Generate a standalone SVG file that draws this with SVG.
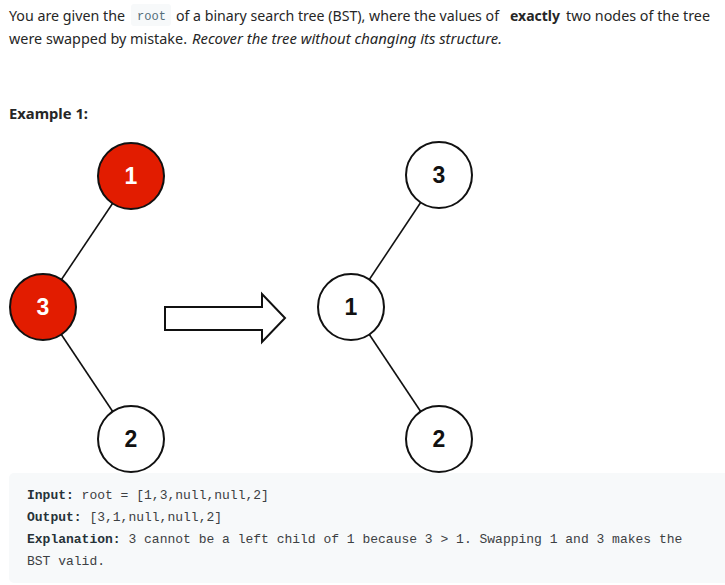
<svg xmlns="http://www.w3.org/2000/svg" width="725" height="585" viewBox="0 0 725 585">
<style>
.p{font-family:"Noto Sans","Open Sans","Liberation Sans",sans-serif;font-size:15px;fill:#262626}
.b{font-weight:bold}
.i{font-style:italic}
.m{font-family:"Liberation Mono","DejaVu Sans Mono",monospace;font-size:13px;fill:#3c4043}
.mb{font-weight:bold;fill:#263238}
.nr{fill:#e21c00;stroke:#111;stroke-width:2}
.nw{fill:#fff;stroke:#111;stroke-width:2}
.lbl{font-family:"Liberation Sans",Arial,sans-serif;font-size:23px;font-weight:bold;text-anchor:middle}
.edge{stroke:#111;stroke-width:1.6;fill:none}
</style>
<rect width="725" height="585" fill="#fff"/>
<g id="intro">
<rect x="131" y="4" width="40" height="22" rx="3" fill="#f7f9fa"/>
<text class="p" y="21"><tspan x="9" textLength="116" lengthAdjust="spacingAndGlyphs">You are given the</tspan><tspan x="137" y="20" class="m" style="fill:#546e7a" textLength="29" lengthAdjust="spacingAndGlyphs">root</tspan><tspan x="176" y="21" textLength="323" lengthAdjust="spacingAndGlyphs">of a binary search tree (BST), where the values of</tspan><tspan x="510" class="b" textLength="50" lengthAdjust="spacingAndGlyphs">exactly</tspan><tspan x="566" textLength="144" lengthAdjust="spacingAndGlyphs">two nodes of the tree</tspan></text>
<text class="p" y="44"><tspan x="9" textLength="178" lengthAdjust="spacingAndGlyphs">were swapped by mistake.</tspan><tspan x="192" class="i" textLength="310" lengthAdjust="spacingAndGlyphs">Recover the tree without changing its structure.</tspan></text>
<text class="p b" x="9" y="119" textLength="79" lengthAdjust="spacingAndGlyphs">Example 1:</text>
</g>
<g id="connectors">
<line class="edge" x1="131" y1="176" x2="43" y2="307"/>
<line class="edge" x1="43" y1="307" x2="131" y2="439"/>
<line class="edge" x1="439" y1="175" x2="351" y2="307"/>
<line class="edge" x1="351" y1="307" x2="439" y2="439"/>
<polygon points="165,307 262,307 262,294 285,318 262,342 262,330 165,330" fill="#fff" stroke="#111" stroke-width="2" stroke-linejoin="miter"/>
</g>
<g id="left-node-1">
<circle class="nr" cx="131" cy="176" r="33"/>
<text class="lbl" x="131" y="184" fill="#fff">1</text>
</g>
<g id="left-node-3">
<circle class="nr" cx="43" cy="307" r="33"/>
<text class="lbl" x="43" y="315" fill="#fff">3</text>
</g>
<g id="left-node-2">
<circle class="nw" cx="131" cy="439" r="33"/>
<text class="lbl" x="131" y="447" fill="#111">2</text>
</g>
<g id="right-node-3">
<circle class="nw" cx="439" cy="175" r="33"/>
<text class="lbl" x="439" y="183" fill="#111">3</text>
</g>
<g id="right-node-1">
<circle class="nw" cx="351" cy="307" r="33"/>
<text class="lbl" x="351" y="315" fill="#111">1</text>
</g>
<g id="right-node-2">
<circle class="nw" cx="439" cy="439" r="33"/>
<text class="lbl" x="439" y="447" fill="#111">2</text>
</g>
<g id="example">
<rect x="9" y="473" width="730" height="110" rx="5" fill="#f7f9fa"/>
<text class="m" x="27" y="499"><tspan class="mb">Input:</tspan> root = [1,3,null,null,2]</text>
<text class="m" x="27" y="521"><tspan class="mb">Output:</tspan> [3,1,null,null,2]</text>
<text class="m" x="27" y="543"><tspan class="mb">Explanation:</tspan> 3 cannot be a left child of 1 because 3 &gt; 1. Swapping 1 and 3 makes the</text>
<text class="m" x="27" y="565">BST valid.</text>
</g>
</svg>
